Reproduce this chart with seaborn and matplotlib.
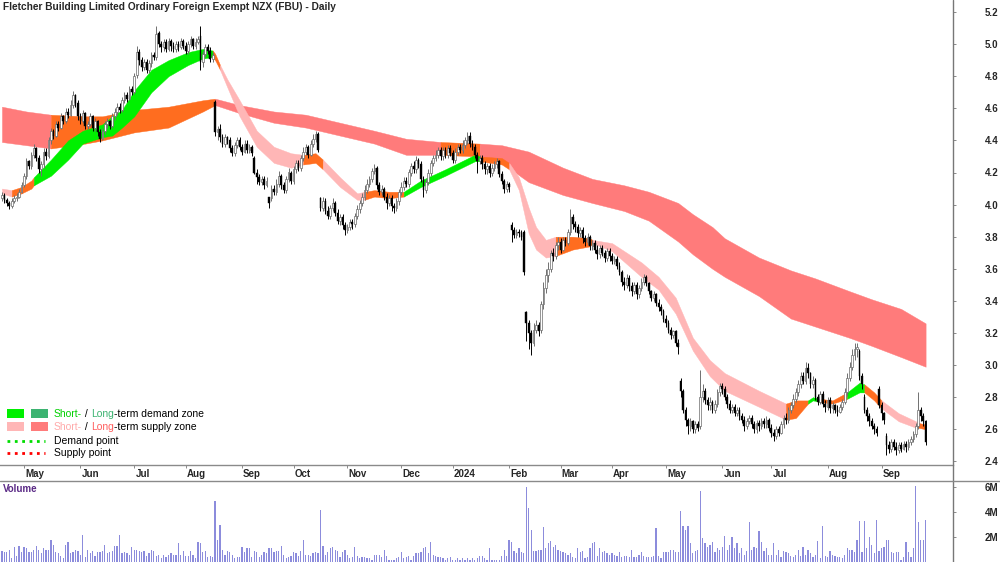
import numpy as np
import pandas as pd
import matplotlib
matplotlib.use("Agg")
import matplotlib.pyplot as plt
import matplotlib.transforms as mtransforms
from matplotlib.lines import Line2D
from matplotlib.patches import Rectangle
import seaborn as sns

title = "Fletcher Building Limited Ordinary Foreign Exempt NZX (FBU) - Daily"
start_date = "2023-04-18"

# daily prices, in cents
opens = [
    404, 406, 403, 401, 399, 402, 404, 405, 408, 412,
    418, 427, 424, 431, 435, 429, 422, 425, 433, 430,
    440, 446, 443, 450, 448, 455, 452, 458, 456, 462,
    468, 463, 455, 452, 457, 449, 450, 455, 448, 452,
    445, 441, 446, 450, 452, 449, 455, 458, 461, 459,
    465, 468, 466, 472, 470, 481, 495, 490, 486, 489,
    484, 488, 493, 492, 507, 500, 498, 501, 497, 502,
    499, 497, 500, 498, 502, 499, 496, 500, 503, 499,
    501, 505, 489, 494, 498, 496, 491, 464, 445, 447,
    442, 438, 442, 440, 435, 432, 437, 440, 436, 433,
    438, 434, 436, 429, 420, 417, 414, 416, 412, 405,
    404, 410, 408, 413, 418, 412, 409, 416, 420, 415,
    422, 426, 423, 429, 433, 436, 431, 438, 441, 444,
    404, 398, 402, 396, 393, 398, 401, 395, 390, 392,
    387, 384, 386, 389, 388, 393, 397, 401, 405, 409,
    413, 416, 421, 423, 412, 408, 410, 405, 401, 404,
    399, 398, 402, 408, 411, 415, 413, 420, 424, 422,
    428, 425, 416, 409, 414, 420, 426, 429, 431, 434,
    430, 434, 431, 435, 432, 428, 433, 436, 434, 437,
    440, 443, 438, 436, 431, 427, 429, 425, 422, 424,
    420, 423, 425, 427, 419, 415, 410, 413, 387, 384,
    381, 383, 382, 383, 333, 326, 320, 314, 322, 325,
    322, 338, 348, 356, 360, 370, 368, 375, 377, 372,
    378, 376, 383, 392, 388, 386, 382, 384, 379, 377,
    380, 374, 376, 372, 369, 373, 370, 367, 371, 368,
    365, 366, 362, 358, 352, 350, 354, 349, 346, 350,
    344, 348, 352, 355, 351, 346, 342, 344, 339, 336,
    334, 329, 326, 322, 319, 321, 314, 290, 284, 272,
    266, 262, 265, 260, 263, 262, 280, 284, 278, 275,
    277, 272, 276, 283, 287, 285, 280, 276, 272, 274,
    270, 272, 268, 266, 262, 265, 267, 263, 260, 264,
    262, 265, 263, 266, 261, 258, 256, 260, 258, 263,
    267, 266, 272, 275, 279, 283, 288, 293, 290, 298,
    295, 288, 291, 280, 277, 282, 276, 274, 278, 273,
    275, 272, 271, 274, 277, 283, 292, 299, 306, 310,
    309, 293, 280, 272, 268, 265, 262, 260, 285, 275,
    270, 256, 250, 248, 252, 249, 247, 250, 248, 251,
    249, 252, 254, 257, 262, 272, 268, 265,
]
closes = [
    406, 403, 401, 399, 402, 404, 405, 408, 412, 418,
    427, 424, 431, 435, 429, 422, 425, 433, 430, 440,
    446, 443, 450, 448, 455, 452, 458, 456, 462, 468,
    463, 455, 452, 457, 449, 450, 455, 448, 452, 445,
    441, 446, 450, 452, 449, 455, 458, 461, 459, 465,
    468, 466, 472, 470, 480, 495, 490, 486, 489, 484,
    488, 493, 492, 506, 500, 498, 501, 497, 502, 499,
    497, 500, 498, 502, 499, 496, 500, 503, 499, 501,
    503, 489, 494, 498, 496, 491, 493, 445, 447, 442,
    438, 442, 440, 435, 432, 437, 440, 436, 433, 438,
    434, 436, 432, 420, 417, 414, 416, 412, 415, 401,
    410, 408, 413, 418, 412, 409, 416, 420, 415, 422,
    426, 423, 429, 433, 436, 431, 438, 441, 444, 434,
    398, 402, 396, 393, 398, 401, 395, 390, 392, 387,
    384, 386, 389, 388, 393, 397, 401, 405, 409, 413,
    416, 421, 423, 412, 408, 410, 405, 401, 404, 399,
    398, 402, 408, 411, 415, 413, 420, 424, 422, 428,
    425, 416, 409, 414, 420, 426, 429, 431, 434, 430,
    434, 431, 435, 432, 428, 433, 436, 434, 437, 440,
    443, 438, 436, 431, 427, 429, 425, 422, 424, 420,
    423, 425, 427, 419, 415, 410, 413, 411, 384, 381,
    383, 382, 380, 358, 326, 320, 314, 322, 325, 321,
    338, 348, 356, 360, 370, 368, 375, 377, 372, 378,
    376, 383, 392, 388, 386, 382, 384, 379, 377, 380,
    374, 376, 372, 369, 373, 370, 367, 371, 368, 365,
    366, 362, 358, 352, 350, 354, 349, 346, 350, 344,
    348, 352, 355, 351, 346, 342, 344, 339, 336, 334,
    329, 326, 322, 319, 321, 314, 311, 284, 272, 266,
    262, 265, 260, 263, 261, 280, 284, 278, 275, 277,
    272, 276, 283, 287, 285, 280, 276, 272, 274, 270,
    272, 268, 266, 262, 265, 267, 263, 260, 264, 262,
    265, 263, 266, 261, 258, 256, 260, 258, 263, 267,
    266, 272, 275, 279, 283, 288, 293, 290, 298, 295,
    288, 291, 280, 277, 282, 276, 274, 278, 273, 275,
    272, 271, 274, 277, 283, 292, 299, 306, 310, 311,
    293, 288, 272, 268, 265, 262, 260, 258, 275, 270,
    266, 250, 248, 252, 249, 247, 250, 248, 251, 249,
    252, 254, 257, 262, 272, 268, 265, 252,
]
highs = [
    408, 407, 404, 402, 404, 406, 407, 410, 414, 420,
    429, 428, 433, 438, 436, 431, 427, 435, 435, 442,
    448, 447, 452, 452, 457, 456, 460, 460, 465, 471,
    469, 465, 457, 459, 458, 452, 457, 456, 454, 453,
    447, 448, 452, 454, 453, 457, 460, 463, 463, 467,
    470, 470, 474, 474, 482, 499, 497, 492, 491, 491,
    490, 495, 495, 511, 508, 502, 503, 503, 504, 503,
    501, 502, 502, 504, 503, 501, 502, 505, 504, 504,
    505, 511, 496, 500, 500, 498, 495, 465, 449, 450,
    444, 444, 443, 442, 437, 439, 442, 442, 438, 440,
    440, 438, 437, 430, 422, 419, 418, 418, 417, 405,
    412, 412, 416, 421, 419, 414, 418, 423, 421, 424,
    428, 428, 431, 436, 438, 437, 440, 444, 446, 445,
    405, 405, 404, 399, 400, 404, 402, 397, 394, 394,
    389, 388, 391, 391, 395, 400, 403, 407, 412, 416,
    418, 423, 425, 424, 414, 412, 411, 407, 406, 406,
    401, 404, 410, 414, 417, 417, 422, 426, 427, 430,
    429, 427, 418, 416, 422, 428, 431, 434, 436, 436,
    436, 436, 437, 437, 434, 435, 438, 438, 440, 442,
    445, 445, 440, 438, 433, 431, 431, 427, 426, 426,
    425, 427, 429, 428, 421, 416, 415, 414, 389, 386,
    385, 385, 384, 384, 334, 328, 322, 326, 328, 327,
    340, 352, 360, 364, 372, 373, 377, 380, 379, 380,
    380, 385, 397, 394, 390, 388, 386, 386, 381, 382,
    381, 378, 378, 375, 375, 375, 372, 373, 373, 370,
    368, 368, 364, 359, 355, 357, 356, 352, 352, 352,
    350, 354, 357, 356, 352, 347, 346, 345, 341, 338,
    335, 331, 328, 324, 322, 322, 316, 292, 285, 274,
    267, 267, 266, 265, 265, 297, 288, 286, 280, 280,
    278, 278, 285, 289, 289, 287, 282, 278, 276, 276,
    274, 274, 270, 268, 267, 269, 269, 265, 266, 266,
    267, 267, 268, 267, 263, 260, 262, 262, 265, 269,
    270, 274, 277, 282, 286, 291, 296, 296, 302, 301,
    296, 293, 292, 282, 284, 284, 278, 280, 280, 277,
    276, 275, 276, 279, 286, 295, 302, 310, 314, 314,
    310, 295, 282, 274, 270, 267, 264, 262, 287, 277,
    271, 258, 253, 254, 254, 252, 252, 252, 253, 253,
    254, 256, 259, 264, 283, 274, 270, 266,
]
lows = [
    402, 401, 399, 397, 398, 401, 402, 404, 407, 411,
    416, 422, 422, 429, 427, 420, 418, 423, 428, 429,
    438, 441, 442, 446, 447, 450, 451, 454, 455, 460,
    461, 453, 450, 451, 447, 447, 449, 446, 446, 443,
    439, 440, 444, 448, 447, 448, 453, 456, 457, 458,
    463, 464, 465, 468, 469, 479, 487, 483, 484, 482,
    482, 486, 490, 490, 498, 495, 496, 495, 496, 496,
    495, 495, 496, 497, 497, 494, 494, 498, 497, 497,
    500, 484, 486, 492, 494, 489, 489, 443, 440, 439,
    436, 436, 438, 433, 430, 430, 435, 434, 431, 432,
    432, 432, 430, 419, 413, 412, 412, 410, 411, 398,
    402, 406, 406, 411, 410, 407, 407, 414, 413, 413,
    420, 421, 421, 427, 431, 429, 430, 436, 439, 433,
    396, 396, 394, 391, 391, 396, 393, 388, 387, 385,
    381, 382, 384, 385, 386, 391, 395, 399, 403, 407,
    411, 414, 419, 410, 406, 406, 403, 397, 399, 396,
    395, 396, 400, 406, 409, 411, 411, 418, 420, 420,
    423, 414, 405, 407, 412, 418, 424, 427, 429, 428,
    428, 429, 429, 430, 426, 426, 431, 432, 432, 435,
    438, 436, 434, 429, 420, 425, 422, 419, 419, 417,
    418, 421, 423, 417, 413, 407, 408, 408, 377, 379,
    379, 380, 378, 356, 315, 310, 306, 312, 320, 318,
    320, 335, 345, 352, 358, 365, 366, 372, 370, 371,
    374, 375, 381, 385, 383, 380, 380, 376, 374, 375,
    372, 372, 370, 366, 367, 368, 364, 365, 365, 363,
    363, 360, 356, 349, 347, 348, 346, 343, 344, 341,
    342, 346, 350, 349, 344, 340, 340, 337, 334, 331,
    327, 324, 320, 316, 317, 312, 307, 280, 270, 262,
    257, 259, 258, 258, 259, 260, 277, 276, 272, 272,
    270, 270, 274, 281, 282, 278, 273, 270, 270, 268,
    268, 266, 264, 259, 260, 263, 261, 258, 258, 259,
    260, 261, 261, 259, 255, 253, 254, 256, 257, 261,
    263, 264, 270, 273, 277, 281, 286, 288, 288, 292,
    286, 286, 278, 275, 276, 274, 271, 272, 270, 270,
    270, 268, 270, 272, 276, 281, 290, 297, 303, 305,
    291, 285, 270, 265, 262, 260, 257, 256, 273, 266,
    263, 244, 245, 246, 247, 244, 245, 246, 247, 246,
    247, 250, 252, 255, 260, 265, 262, 250,
]
# daily volume, in units of 0.1M shares
volume_tenths = [
    9, 8, 8, 10, 3, 12, 5, 13, 8, 12,
    11, 8, 8, 10, 13, 10, 7, 11, 10, 10,
    18, 14, 8, 7, 5, 3, 14, 16, 7, 8,
    10, 9, 6, 22, 4, 10, 7, 9, 5, 8,
    8, 9, 14, 7, 8, 9, 13, 13, 22, 7,
    8, 7, 6, 12, 10, 10, 9, 8, 9, 5,
    7, 10, 9, 5, 6, 3, 6, 4, 6, 7,
    6, 6, 15, 6, 9, 5, 5, 9, 6, 3,
    16, 15, 8, 9, 4, 5, 4, 49, 18, 30,
    10, 6, 9, 8, 6, 3, 4, 4, 12, 8,
    11, 11, 4, 9, 8, 4, 6, 8, 7, 11,
    11, 8, 9, 9, 13, 6, 3, 4, 5, 8,
    7, 5, 9, 18, 6, 6, 5, 7, 8, 7,
    42, 13, 6, 8, 11, 12, 10, 9, 4, 8,
    10, 6, 3, 4, 12, 5, 3, 4, 4, 3,
    3, 2, 6, 6, 6, 4, 10, 5, 2, 2,
    2, 3, 4, 8, 3, 4, 5, 2, 5, 7,
    7, 8, 11, 12, 7, 16, 6, 5, 4, 4,
    3, 2, 3, 4, 2, 2, 3, 2, 3, 2,
    3, 2, 3, 2, 3, 5, 5, 3, 2, 11,
    2, 2, 2, 2, 5, 10, 5, 18, 16, 9,
    7, 11, 8, 7, 60, 43, 26, 9, 9, 10,
    10, 28, 11, 15, 17, 12, 14, 10, 9, 8,
    7, 6, 7, 4, 3, 11, 8, 9, 3, 4,
    11, 15, 16, 5, 11, 8, 9, 7, 6, 7,
    6, 5, 8, 4, 5, 5, 4, 10, 4, 4,
    6, 8, 5, 4, 4, 4, 5, 27, 5, 3,
    8, 8, 8, 10, 10, 8, 8, 41, 29, 26,
    29, 15, 7, 9, 10, 57, 19, 15, 12, 14,
    16, 8, 11, 10, 12, 21, 10, 14, 20, 11,
    15, 7, 11, 6, 9, 32, 10, 12, 11, 25,
    16, 9, 11, 6, 6, 15, 6, 10, 4, 9,
    8, 7, 5, 4, 6, 10, 5, 12, 6, 10,
    7, 4, 6, 17, 3, 29, 5, 4, 9, 6,
    5, 4, 4, 3, 6, 11, 10, 10, 8, 18,
    33, 8, 33, 11, 20, 14, 7, 34, 9, 11,
    12, 18, 18, 8, 7, 8, 8, 2, 4, 16,
    8, 4, 11, 61, 32, 18, 18, 34,
]

# long-term band (day index, upper edge, lower edge)
long_idx = [0, 10, 20, 34, 41, 54, 68, 82, 87, 97, 111, 124, 138, 152, 165, 179, 195,
            204, 215, 229, 241, 254, 264, 276, 282, 290, 295, 309, 322, 332, 346, 355, 367, 377]
long_top = [4.61, 4.58, 4.56, 4.55, 4.55, 4.59, 4.61, 4.65, 4.66, 4.62, 4.58, 4.56, 4.51, 4.46,
            4.41, 4.39, 4.38, 4.37, 4.33, 4.23, 4.16, 4.12, 4.08, 4.01, 3.94, 3.86, 3.79, 3.67,
            3.59, 3.54, 3.46, 3.41, 3.35, 3.26]
long_bot = [4.39, 4.37, 4.35, 4.38, 4.40, 4.45, 4.48, 4.58, 4.62, 4.57, 4.51, 4.48, 4.43, 4.38,
            4.31, 4.31, 4.30, 4.26, 4.14, 4.06, 4.01, 3.96, 3.90, 3.77, 3.69, 3.60, 3.55, 3.43,
            3.29, 3.24, 3.17, 3.12, 3.05, 2.99]
long_zones = [(0, 20, "supply"), (20, 87, "neutral"), (87, 179, "supply"),
              (179, 195, "neutral"), (195, 377, "supply")]

# short-term band
short_idx = [0, 4, 8, 12, 13, 20, 27, 33, 37, 41, 45, 49, 54, 61, 68, 76, 82, 86, 87, 89,
             92, 97, 104, 111, 118, 123, 128, 131, 138, 145, 148, 152, 158, 164, 171, 181,
             193, 195, 204, 207, 211, 215, 218, 222, 226, 233, 240, 241, 249, 261, 268, 275,
             282, 289, 295, 309, 320, 324, 329, 331, 334, 339, 345, 350, 352, 356, 359, 366,
             373, 374, 377]
short_top = [4.10, 4.09, 4.11, 4.15, 4.17, 4.28, 4.40, 4.46, 4.48, 4.50, 4.55, 4.59, 4.71,
             4.84, 4.90, 4.95, 4.97, 4.96, 4.94, 4.87, 4.78, 4.65, 4.46, 4.36, 4.32, 4.31,
             4.32, 4.28, 4.17, 4.07, 4.08, 4.09, 4.08, 4.08, 4.15, 4.22, 4.31, 4.30, 4.29,
             4.26, 4.17, 3.98, 3.86, 3.78, 3.80, 3.80, 3.79, 3.78, 3.76, 3.64, 3.55, 3.42,
             3.17, 3.03, 2.95, 2.84, 2.76, 2.78, 2.78, 2.80, 2.79, 2.78, 2.83, 2.89, 2.88,
             2.83, 2.78, 2.70, 2.65, 2.64, 2.63]
short_bot = [4.07, 4.05, 4.07, 4.10, 4.12, 4.18, 4.28, 4.38, 4.40, 4.42, 4.43, 4.48, 4.55,
             4.70, 4.80, 4.87, 4.91, 4.92, 4.90, 4.84, 4.73, 4.55, 4.36, 4.26, 4.23, 4.25,
             4.26, 4.22, 4.11, 4.03, 4.03, 4.05, 4.04, 4.05, 4.11, 4.18, 4.27, 4.27, 4.25,
             4.22, 4.09, 3.82, 3.72, 3.67, 3.68, 3.72, 3.74, 3.76, 3.71, 3.55, 3.47, 3.32,
             3.09, 2.93, 2.84, 2.74, 2.66, 2.67, 2.76, 2.78, 2.77, 2.76, 2.79, 2.83, 2.83,
             2.78, 2.73, 2.65, 2.61, 2.61, 2.60]
short_zones = [(0, 4, "supply"), (4, 13, "neutral"), (13, 86, "demand"), (86, 89, "neutral"),
               (89, 123, "supply"), (123, 131, "neutral"), (131, 148, "supply"),
               (148, 164, "neutral"), (164, 195, "demand"), (195, 207, "neutral"),
               (207, 226, "supply"), (226, 241, "neutral"), (241, 320, "supply"),
               (320, 329, "neutral"), (329, 334, "demand"), (334, 345, "neutral"),
               (345, 352, "demand"), (352, 359, "neutral"), (359, 374, "supply"),
               (374, 377, "neutral")]

price_ticks = [2.4, 2.6, 2.8, 3.0, 3.2, 3.4, 3.6, 3.8, 4.0, 4.2, 4.4, 4.6, 4.8, 5.0, 5.2]
volume_ticks = [2, 4, 6]
volume_tick_labels = ["2M", "4M", "6M"]

long_colors = {"supply": "#ff7b7b", "neutral": "#ff6d1f", "demand": "#3cb371"}
short_colors = {"supply": "#ffb6b6", "neutral": "#ff6d1f", "demand": "#00f000"}

W, H = 1000, 562
sns.set_style("white")
plt.rcParams["font.family"] = ["Liberation Sans", "DejaVu Sans"]

n = len(closes)
days = np.arange(n)
dates = pd.bdate_range(start_date, periods=n)
o = np.array(opens) / 100
c = np.array(closes) / 100
hi = np.array(highs) / 100
lo = np.array(lows) / 100

fig = plt.figure(figsize=(W / 100, H / 100), dpi=100)
ax = fig.add_axes([0, 97 / H, 953 / W, 465 / H])
ax_vol = fig.add_axes([0, 0, 953 / W, 81 / H])
xlim = (-0.8, -0.8 + 953 / 2.45)


def fill_zones(idx, top, bot, zones, colors, z):
    idx = np.asarray(idx)
    top = np.asarray(top)
    bot = np.asarray(bot)
    for a, b, kind in zones:
        m = (idx >= a) & (idx <= b)
        ax.fill_between(idx[m], top[m], bot[m], color=colors[kind],
                        lw=0.3, zorder=z)


fill_zones(long_idx, long_top, long_bot, long_zones, long_colors, 1)
fill_zones(short_idx, short_top, short_bot, short_zones, short_colors, 2)

# candles
up = c >= o
ax.vlines(days[up], lo[up], hi[up], color="#707070", lw=0.7, zorder=3)
ax.vlines(days[~up], lo[~up], hi[~up], color="black", lw=0.7, zorder=3)
ax.bar(days[up], (c - o)[up], bottom=o[up], width=0.7, color="white",
       edgecolor="#6a6a6a", lw=0.5, zorder=4)
ax.bar(days[~up], (c - o)[~up], bottom=o[~up], width=0.7, color="black",
       edgecolor="black", lw=0.3, zorder=4)

ax.set_xlim(*xlim)
ax.set_ylim(5.2 - 453 / 160.5, 5.2 + 12 / 160.5)

# volume
vol_df = pd.DataFrame({"day": days, "volume": np.array(volume_tenths) / 10})
sns.barplot(data=vol_df, x="day", y="volume", native_scale=True, ax=ax_vol,
            color="#8c8cdc", saturation=1, width=0.5, errorbar=None, lw=0)
ax_vol.set_xlim(*xlim)
ax_vol.set_ylim(0, 6.48)
ax_vol.set_xlabel("")
ax_vol.set_ylabel("")
ax_vol.set_xticks([])

# axes styling
for a in (ax, ax_vol):
    for s in a.spines.values():
        s.set_visible(False)
    a.yaxis.tick_right()
    a.tick_params(axis="y", right=True, left=False, length=2.5, width=0.6,
                  color="#777777", pad=30, labelsize=7)
ax.spines["bottom"].set_visible(True)
ax.spines["bottom"].set_color("#8a8a8a")
ax.spines["bottom"].set_linewidth(1)

ax.set_yticks(price_ticks)
ax.set_yticklabels([f"{v:.1f}" for v in price_ticks])
ax_vol.set_yticks(volume_ticks)
ax_vol.set_yticklabels(volume_tick_labels)
for a in (ax, ax_vol):
    for lab in a.get_yticklabels():
        lab.set_horizontalalignment("right")
        lab.set_fontweight("bold")

month_pos = [i for i in range(1, n) if dates[i].month != dates[i - 1].month]
month_lab = [str(dates[i].year) if dates[i].month == 1 else dates[i].strftime("%b")
             for i in month_pos]
ax.set_xticks(month_pos)
ax.set_xticklabels(month_lab)
ax.tick_params(axis="x", bottom=True, length=2.5, width=0.6, color="#777777",
               pad=0.5, labelsize=7)
offset = mtransforms.ScaledTranslation(0.8 / 72, 0, fig.dpi_scale_trans)
for lab in ax.get_xticklabels():
    lab.set_horizontalalignment("left")
    lab.set_fontweight("bold")
    lab.set_transform(lab.get_transform() + offset)

# frame lines
fig.add_artist(Line2D([953 / W, 953 / W], [0, 1], color="#777777", lw=1))
fig.add_artist(Line2D([0, 1], [1 - 481 / H, 1 - 481 / H], color="#8a8a8a", lw=1))

# titles
fig.text(3 / W, 1 - 7 / H, title, fontsize=7.3, fontweight="bold", va="center", ha="left")
fig.text(3 / W, 1 - 489 / H, "Volume", fontsize=7, fontweight="bold", color="#5b2a86",
         va="center", ha="left")

# legend
renderer = fig.canvas.get_renderer()


def text_width(s, size):
    t1 = fig.text(0, 0, "|" + s + "|", fontsize=size)
    t2 = fig.text(0, 0, "||", fontsize=size)
    w = t1.get_window_extent(renderer).width - t2.get_window_extent(renderer).width
    t1.remove()
    t2.remove()
    return w


def rich_line(x_px, y_px, parts, size=7.5):
    x = x_px
    for s, col in parts:
        fig.text(x / W, 1 - y_px / H, s, color=col, fontsize=size, va="center", ha="left")
        x += text_width(s, size)


def square(x_px, y_px, col):
    fig.add_artist(Rectangle((x_px / W, 1 - (y_px + 9) / H), 17 / W, 9 / H,
                             facecolor=col, edgecolor="none"))


square(7, 409, short_colors["demand"])
square(31, 409, long_colors["demand"])
square(7, 422, short_colors["supply"])
square(31, 422, long_colors["supply"])
rich_line(54, 414, [("Short-", "#00d000"), (" / ", "black"), ("Long", "#3cb371"),
                    ("-term demand zone", "black")])
rich_line(54, 427, [("Short-", "#ffaaaa"), (" / ", "black"), ("Long", "#ff5f5f"),
                    ("-term supply zone", "black")])
fig.add_artist(Line2D([7 / W, 45 / W], [1 - 441 / H] * 2, color="#00dd00", lw=2, ls=":"))
fig.add_artist(Line2D([7 / W, 45 / W], [1 - 453 / H] * 2, color="#ff0000", lw=2, ls=":"))
rich_line(54, 441, [("Demand point", "black")])
rich_line(54, 453, [("Supply point", "black")])

fig.savefig("out.png", dpi=100)
